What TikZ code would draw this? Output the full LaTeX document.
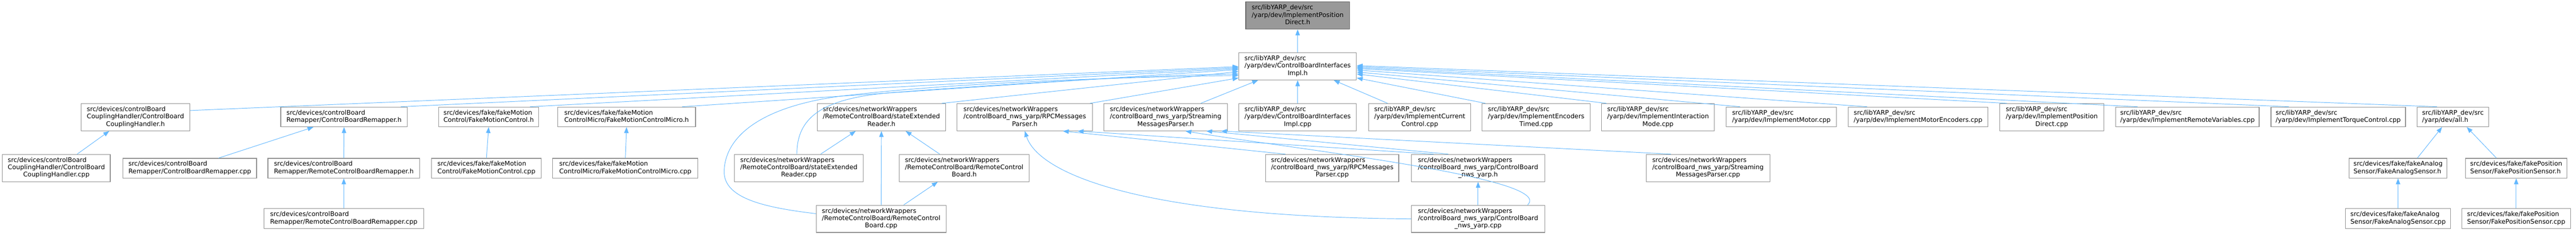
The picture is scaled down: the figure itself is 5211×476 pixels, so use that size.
\documentclass[tikz,border=0pt]{standalone}
\usepackage{fontspec}
\newfontfamily\dvs{DejaVu Sans}
\usetikzlibrary{arrows.meta}
\definecolor{edgeblue}{HTML}{63B8FF}
\definecolor{nodegray}{HTML}{8F8F8F}
\definecolor{topfill}{HTML}{999999}
\definecolor{topdraw}{HTML}{666666}
\newcommand\lthree[3]{\begin{tabular}{@{}l@{}}#1\\#2\\\multicolumn{1}{@{}c@{}}{#3}\end{tabular}}
\newcommand\ltwo[2]{\begin{tabular}{@{}l@{}}#1\\#2\end{tabular}}
\tikzset{
  nd/.style={draw=nodegray, line width=0.6pt, fill=white, inner sep=0pt,
    font={\dvs\fontsize{6.45pt}{7.5pt}\selectfont}},
  topnd/.style={nd, fill=topfill, draw=topdraw},
  bw/.style={minimum width=#1*0.5pt},
  hthree/.style={minimum height=27.5pt},
  htwo/.style={minimum height=20pt},
  edge/.style={draw=edgeblue, line width=0.5pt, -{Triangle[length=6pt,width=4.5pt]}},
}
\begin{document}
\begin{tikzpicture}[x=0.5pt,y=-0.5pt]
\useasboundingbox (0,0) rectangle (5211,476);
\fill[white] (0,0) rectangle (5211,476);
% row 1 and 2
\node[topnd,bw=210,hthree] (top) at (2625,31.5) {\lthree{src/libYARP\_dev/src}{/yarp/dev/ImplementPosition}{Direct.h}};
\node[nd,bw=238,hthree] (main) at (2625,134.5) {\lthree{src/libYARP\_dev/src}{/yarp/dev/ControlBoardInterfaces}{Impl.h}};
% row 3
\node[nd,bw=220,hthree] (chh) at (274,237.5) {\lthree{src/devices/controlBoard}{CouplingHandler/ControlBoard}{CouplingHandler.h}};
\node[nd,bw=256,htwo] (cbrh) at (696,237) {\ltwo{src/devices/controlBoard}{Remapper/ControlBoardRemapper.h}};
\node[nd,bw=203,htwo] (fmch) at (988.5,237) {\ltwo{src/devices/fake/fakeMotion}{Control/FakeMotionControl.h}};
\node[nd,bw=279,htwo] (fmcmh) at (1267.5,237) {\ltwo{src/devices/fake/fakeMotion}{ControlMicro/FakeMotionControlMicro.h}};
\node[nd,bw=260,hthree] (serh) at (1783,237.5) {\lthree{src/devices/networkWrappers}{/RemoteControlBoard/stateExtended}{Reader.h}};
\node[nd,bw=274,hthree] (rpch) at (2073,237.5) {\lthree{src/devices/networkWrappers}{/controlBoard\_nws\_yarp/RPCMessages}{Parser.h}};
\node[nd,bw=250,hthree] (strh) at (2358,237.5) {\lthree{src/devices/networkWrappers}{/controlBoard\_nws\_yarp/Streaming}{MessagesParser.h}};
\node[nd,bw=238,hthree] (cbiicpp) at (2625,237.5) {\lthree{src/libYARP\_dev/src}{/yarp/dev/ControlBoardInterfaces}{Impl.cpp}};
\node[nd,bw=206,hthree] (icc) at (2872,237.5) {\lthree{src/libYARP\_dev/src}{/yarp/dev/ImplementCurrent}{Control.cpp}};
\node[nd,bw=219,hthree] (iet) at (3107.5,237.5) {\lthree{src/libYARP\_dev/src}{/yarp/dev/ImplementEncoders}{Timed.cpp}};
\node[nd,bw=228,hthree] (iim) at (3354,237.5) {\lthree{src/libYARP\_dev/src}{/yarp/dev/ImplementInteraction}{Mode.cpp}};
\node[nd,bw=223,htwo] (im) at (3603.5,237) {\ltwo{src/libYARP\_dev/src}{/yarp/dev/ImplementMotor.cpp}};
\node[nd,bw=282,htwo] (ime) at (3880,237) {\ltwo{src/libYARP\_dev/src}{/yarp/dev/ImplementMotorEncoders.cpp}};
\node[nd,bw=211,hthree] (ipd) at (4150.5,237.5) {\lthree{src/libYARP\_dev/src}{/yarp/dev/ImplementPosition}{Direct.cpp}};
\node[nd,bw=290,htwo] (irv) at (4425,237) {\ltwo{src/libYARP\_dev/src}{/yarp/dev/ImplementRemoteVariables.cpp}};
\node[nd,bw=272,htwo] (itc) at (4730,237) {\ltwo{src/libYARP\_dev/src}{/yarp/dev/ImplementTorqueControl.cpp}};
\node[nd,bw=145,htwo] (allh) at (4962,237) {\ltwo{src/libYARP\_dev/src}{/yarp/dev/all.h}};
% row 4
\node[nd,bw=218,hthree] (chcpp) at (114,340.5) {\lthree{src/devices/controlBoard}{CouplingHandler/ControlBoard}{CouplingHandler.cpp}};
\node[nd,bw=270,htwo] (cbrcpp) at (384,341) {\ltwo{src/devices/controlBoard}{Remapper/ControlBoardRemapper.cpp}};
\node[nd,bw=307,htwo] (rcbrh) at (695.5,341) {\ltwo{src/devices/controlBoard}{Remapper/RemoteControlBoardRemapper.h}};
\node[nd,bw=222,htwo] (fmccpp) at (984,341) {\ltwo{src/devices/fake/fakeMotion}{Control/FakeMotionControl.cpp}};
\node[nd,bw=294,htwo] (fmcmcpp) at (1265,341) {\ltwo{src/devices/fake/fakeMotion}{ControlMicro/FakeMotionControlMicro.cpp}};
\node[nd,bw=260,hthree] (sercpp) at (1616,340.5) {\lthree{src/devices/networkWrappers}{/RemoteControlBoard/stateExtended}{Reader.cpp}};
\node[nd,bw=263,hthree] (rcbh) at (1950.5,340.5) {\lthree{src/devices/networkWrappers}{/RemoteControlBoard/RemoteControl}{Board.h}};
\node[nd,bw=269,hthree] (rpccpp) at (2695,340.5) {\lthree{src/devices/networkWrappers}{/controlBoard\_nws\_yarp/RPCMessages}{Parser.cpp}};
\node[nd,bw=270,hthree] (cbnwsh) at (2990,340.5) {\lthree{src/devices/networkWrappers}{/controlBoard\_nws\_yarp/ControlBoard}{\_nws\_yarp.h}};
\node[nd,bw=250,hthree] (strcpp) at (3455,340.5) {\lthree{src/devices/networkWrappers}{/controlBoard\_nws\_yarp/Streaming}{MessagesParser.cpp}};
\node[nd,bw=198,htwo] (fash) at (4851,341) {\ltwo{src/devices/fake/fakeAnalog}{Sensor/FakeAnalogSensor.h}};
\node[nd,bw=205,htwo] (fpsh) at (5090,341) {\ltwo{src/devices/fake/fakePosition}{Sensor/FakePositionSensor.h}};
% row 5
\node[nd,bw=323,htwo] (rcbrcpp) at (695.5,443) {\ltwo{src/devices/controlBoard}{Remapper/RemoteControlBoardRemapper.cpp}};
\node[nd,bw=263,hthree] (rcbcpp) at (1782.5,443.5) {\lthree{src/devices/networkWrappers}{/RemoteControlBoard/RemoteControl}{Board.cpp}};
\node[nd,bw=270,hthree] (cbnwscpp) at (2990,443.5) {\lthree{src/devices/networkWrappers}{/controlBoard\_nws\_yarp/ControlBoard}{\_nws\_yarp.cpp}};
\node[nd,bw=213,htwo] (fascpp) at (4851,443) {\ltwo{src/devices/fake/fakeAnalog}{Sensor/FakeAnalogSensor.cpp}};
\node[nd,bw=220,htwo] (fpscpp) at (5090,443) {\ltwo{src/devices/fake/fakePosition}{Sensor/FakePositionSensor.cpp}};
% edges
\draw[edge] (main.north) -- (top.south);
\draw[edge] ([yshift=6.75pt]chh.east) -- ([yshift=-0.25pt]main.west);
\draw[edge] ([xshift=57.5pt]cbrh.north) -- ([yshift=-1.25pt]main.west);
\draw[edge] ([xshift=41.75pt]fmch.north) -- ([yshift=-2.25pt]main.west);
\draw[edge] ([xshift=56.25pt]fmcmh.north) -- ([yshift=-3.25pt]main.west);
\draw[edge] ([xshift=61pt]serh.north) -- ([yshift=-5.25pt]main.west);
\draw[edge] ([xshift=-2pt]sercpp.north) .. controls (1612,240) and (1660,200) .. (1800,188) .. controls (2100,165) and (2350,152) .. ([yshift=-7.75pt]main.west);
\draw[edge] ([yshift=5.25pt]rcbcpp.west) .. controls (1540,420) and (1460,400) .. (1465,343) .. controls (1470,270) and (1550,215) .. (1700,195) .. controls (1950,165) and (2300,156) .. ([yshift=-9.25pt]main.west);
\draw[edge] ([xshift=66pt]rpch.north) -- ([yshift=-11.75pt]main.west);
\draw[edge] ([xshift=35.5pt]strh.north) -- ([xshift=-40pt]main.south);
\draw[edge] (cbiicpp.north) -- (main.south);
\draw[edge] ([xshift=-32.5pt]icc.north) -- ([xshift=36.5pt]main.south);
\draw[edge] ([xshift=-51.25pt]iet.north) -- ([yshift=-11.75pt]main.east);
\draw[edge] ([xshift=-52pt]iim.north) -- ([yshift=-7.75pt]main.east);
\draw[edge] ([xshift=-41.75pt]im.north) -- ([yshift=-5.75pt]main.east);
\draw[edge] ([xshift=-51.5pt]ime.north) -- ([yshift=-3.75pt]main.east);
\draw[edge] ([xshift=-45.25pt]ipd.north) -- ([yshift=-2.25pt]main.east);
\draw[edge] ([xshift=-50.5pt]irv.north) -- ([yshift=-1.25pt]main.east);
\draw[edge] ([xshift=-50pt]itc.north) -- ([yshift=-0.25pt]main.east);
\draw[edge] ([xshift=-16pt]allh.north) -- ([yshift=0.75pt]main.east);
\draw[edge] ([xshift=21pt]chcpp.north) -- ([xshift=-26.5pt]chh.south);
\draw[edge] ([xshift=29pt]cbrcpp.north) -- ([xshift=-31pt]cbrh.south);
\draw[edge] (rcbrh.north) -- (cbrh.south);
\draw[edge] (rcbrcpp.north) -- (rcbrh.south);
\draw[edge] (fmccpp.north) -- (fmch.south);
\draw[edge] (fmcmcpp.north) -- (fmcmh.south);
\draw[edge] ([xshift=22pt]sercpp.north) -- ([xshift=-26pt]serh.south);
\draw[edge] (rcbcpp.north) -- (serh.south);
\draw[edge] ([xshift=-24.75pt]rcbh.north) -- ([xshift=24.5pt]serh.south);
\draw[edge] ([xshift=22.75pt]rcbcpp.north) -- ([xshift=-26.75pt]rcbh.south);
\draw[edge] ([xshift=-47.5pt]rpccpp.north) -- ([xshift=38.5pt]rpch.south);
\draw[edge] ([xshift=-45pt]cbnwsh.north) -- ([xshift=53.5pt]rpch.south);
\draw[edge] ([xshift=-30pt]cbnwsh.north) -- ([xshift=41pt]strh.south);
\draw[edge] ([xshift=-37.5pt]strcpp.north) -- ([xshift=56pt]strh.south);
\draw[edge] (cbnwscpp.north) -- (cbnwsh.south);
\draw[edge] (cbnwscpp.west) .. controls (2300,440) and (2100,350) .. (rpch.south);
\draw[edge] ([xshift=50pt]cbnwscpp.north) .. controls (3150,360) and (2600,300) .. ([xshift=20pt]strh.south);
\draw[edge] ([xshift=19.5pt]fash.north) -- ([xshift=-11pt]allh.south);
\draw[edge] ([xshift=-20pt]fpsh.north) -- ([xshift=14pt]allh.south);
\draw[edge] (fascpp.north) -- (fash.south);
\draw[edge] (fpscpp.north) -- (fpsh.south);
\end{tikzpicture}
\end{document}
